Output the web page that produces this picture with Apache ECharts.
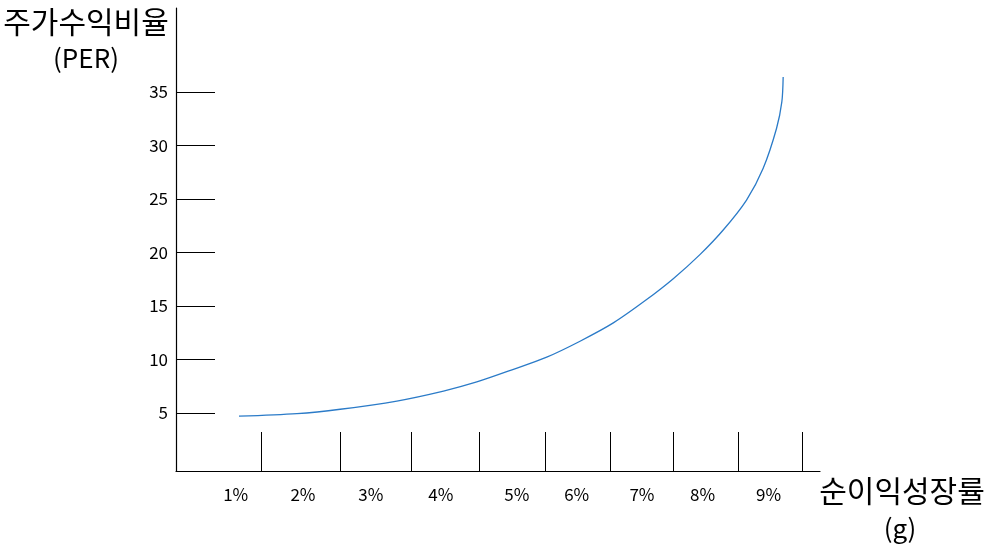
<!DOCTYPE html>
<html>
<head>
<meta charset="utf-8">
<script src="https://cdn.jsdelivr.net/npm/echarts@6/dist/echarts.min.js"></script>
<style>html,body{margin:0;padding:0;background:#fff}#c{width:994px;height:554px}</style>
</head>
<body>
<div id="c"></div>
<script>
// x in growth-rate units (g, %), y in PER
var growthX = [1.05, 1.92, 2.57, 3.42, 4.12, 4.62, 5.17, 5.67, 6.17, 6.67, 7.17, 7.57, 7.97, 8.32, 8.67, 8.92, 9.12, 9.2, 9.22];
var perY    = [4.70, 4.94, 5.35, 6.12, 7.05, 7.90, 9.08, 10.22, 11.71, 13.42, 15.60, 17.55, 19.80, 22.10, 24.90, 27.87, 31.59, 34.08, 36.41];
var xLabelValues = [1.0, 2.01, 3.03, 4.08, 5.22, 6.12, 7.10, 8.01, 9.0];
var xLabelTexts = ['1%', '2%', '3%', '4%', '5%', '6%', '7%', '8%', '9%'];
var xTickValues = [1.38, 2.57, 3.64, 4.66, 5.65, 6.62, 7.57, 8.55, 9.51];
var yTickValues = [5, 10, 15, 20, 25, 30, 35];
var yTitle = '주가수익비율';
var yTitleSub = '(PER)';
var xTitle = '순이익성장률';
var xTitleSub = '(g)';

var FONT = '"Noto Sans CJK KR", "Noto Sans", sans-serif';
var chart = echarts.init(document.getElementById('c'), null, {renderer: 'canvas'});
var data = growthX.map(function (x, i) { return [x, perY[i]]; });

chart.setOption({
  animation: false,
  backgroundColor: '#fff',
  grid: {left: 176, right: 174, top: 8, bottom: 83},
  xAxis: {
    type: 'value', min: 0.104, max: 9.773,
    splitLine: {show: false},
    axisLine: {onZero: false, lineStyle: {color: '#000', width: 1.2}},
    axisTick: {show: true, inside: true, length: 39, customValues: xTickValues, lineStyle: {color: '#000', width: 1}},
    axisLabel: {
      customValues: xLabelValues, margin: 15, color: '#000', fontSize: 17, fontFamily: FONT,
      formatter: function (v) {
        var idx = xLabelValues.indexOf(v);
        return idx >= 0 ? xLabelTexts[idx] : '';
      }
    }
  },
  yAxis: {
    type: 'value', min: -0.42, max: 42.85,
    splitLine: {show: false},
    axisLine: {show: true, onZero: false, lineStyle: {color: '#000', width: 1.2}},
    axisTick: {show: true, inside: true, length: 39, customValues: yTickValues, lineStyle: {color: '#000', width: 1}},
    axisLabel: {customValues: yTickValues, margin: 8, color: '#000', fontSize: 17, fontFamily: FONT}
  },
  series: [{
    type: 'line', data: data, smooth: 0.3, showSymbol: false,
    lineStyle: {color: '#2B7BC8', width: 1.3}
  }],
  graphic: [
    {type: 'text', style: {text: yTitle, x: 86, y: 22, textAlign: 'center', textVerticalAlign: 'middle', fontSize: 30, fontFamily: FONT, fill: '#000'}},
    {type: 'text', style: {text: yTitleSub, x: 86, y: 58, textAlign: 'center', textVerticalAlign: 'middle', fontSize: 26, fontFamily: FONT, fill: '#000'}},
    {type: 'text', style: {text: xTitle, x: 902, y: 491, textAlign: 'center', textVerticalAlign: 'middle', fontSize: 30, fontFamily: FONT, fill: '#000'}},
    {type: 'text', style: {text: xTitleSub, x: 900, y: 528, textAlign: 'center', textVerticalAlign: 'middle', fontSize: 26, fontFamily: FONT, fill: '#000'}}
  ]
});
</script>
</body>
</html>
